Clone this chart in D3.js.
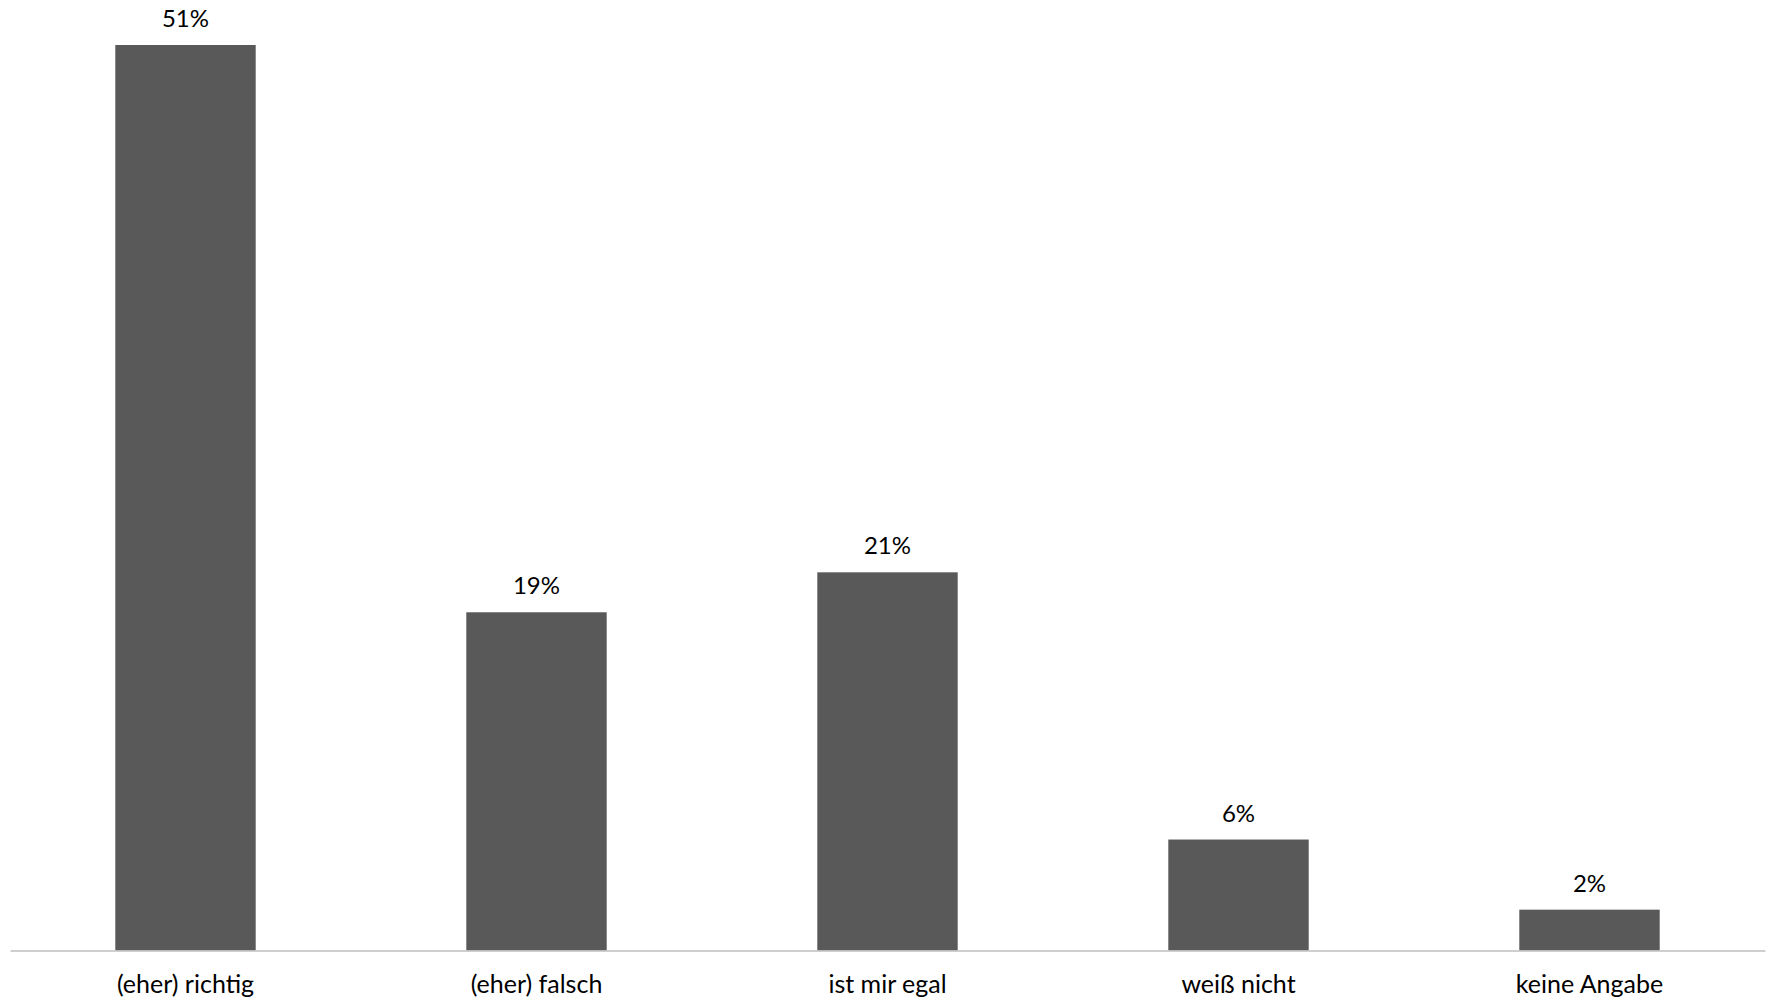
<!DOCTYPE html>
<html>
<head>
<meta charset="utf-8">
<script src="https://cdn.jsdelivr.net/npm/d3@7"></script>
<style>
  html, body { margin: 0; padding: 0; background: #ffffff; }
  svg { display: block; }
  text { font-family: Lato, "Open Sans", sans-serif; fill: #000000; }
</style>
</head>
<body>
<svg id="chart" width="1769" height="1000"></svg>
<script>
const categories = ["(eher) richtig", "(eher) falsch", "ist mir egal", "weiß nicht", "keine Angabe"];
const values = [51.0, 19.05, 21.3, 6.25, 2.3];
const valueLabels = ["51%", "19%", "21%", "6%", "2%"];

const W = 1769, H = 1000;
const margin = { left: 10, right: 4, top: 45, bottom: 49.5 };
const baseY = H - margin.bottom;

const svg = d3.select("#chart");

const x = d3.scaleBand()
  .domain(categories)
  .range([margin.left, W - margin.right])
  .paddingInner(0.6)
  .paddingOuter(0.3);

const y = d3.scaleLinear()
  .domain([0, 51])
  .range([baseY, margin.top]);

const data = categories.map((c, i) => ({ c, v: values[i], label: valueLabels[i] }));

svg.append("g").selectAll("rect")
  .data(data)
  .join("rect")
  .attr("x", d => x(d.c))
  .attr("y", d => y(d.v))
  .attr("width", x.bandwidth())
  .attr("height", d => baseY - y(d.v))
  .attr("fill", "#595959");

svg.append("g").selectAll("text")
  .data(data)
  .join("text")
  .attr("x", d => x(d.c) + x.bandwidth() / 2)
  .attr("y", d => y(d.v) - 18)
  .attr("text-anchor", "middle")
  .attr("font-size", 24)
  .text(d => d.label);

const xAxis = d3.axisBottom(x).tickSize(0).tickPadding(0);
const gx = svg.append("g")
  .attr("transform", `translate(0,${baseY})`)
  .call(xAxis);
gx.select(".domain").attr("stroke", "#bfbfbf").attr("stroke-width", 1.5);
gx.selectAll(".tick text")
  .attr("font-size", 25)
  .attr("font-family", "Lato, 'Open Sans', sans-serif")
  .attr("fill", "#000")
  .attr("dy", 0)
  .attr("y", 42);
</script>
</body>
</html>
